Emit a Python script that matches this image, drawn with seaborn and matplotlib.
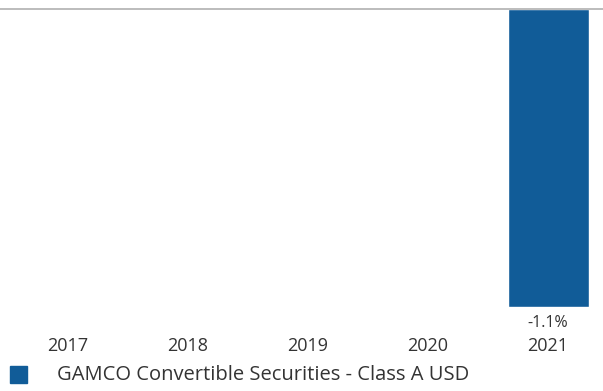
import matplotlib
matplotlib.use("Agg")
import matplotlib.pyplot as plt
import seaborn as sns
import pandas as pd
import numpy as np
from matplotlib.patches import Rectangle

years = ["2017", "2018", "2019", "2020", "2021"]
values = [np.nan, np.nan, np.nan, np.nan, -1.1]
labels = ["", "", "", "", "-1.1%"]
series_name = "GAMCO Convertible Securities - Class A USD"
bar_color = "#115C98"
text_color = "#333333"

sns.set_theme(style="white")
plt.rcParams['font.family'] = ['Open Sans', 'DejaVu Sans']

W, H = 603, 391
fig = plt.figure(figsize=(W / 100, H / 100), dpi=100)
ax = fig.add_axes([0, (H - 307) / H, 1, (307 - 9) / H])

df = pd.DataFrame({"year": years, "value": values})
sns.barplot(data=df, x="year", y="value", color=bar_color, width=0.675,
            saturation=1, ax=ax, order=years)

ax.set_xlim(-68 / 120, (603 - 68) / 120)
ax.set_ylim(-1.1, 0)
ax.axhline(0, color="#b0b0b0", lw=1.2, zorder=5, clip_on=False)
for s in ax.spines.values():
    s.set_visible(False)
ax.set_xlabel("")
ax.set_ylabel("")
ax.set_yticks([])
ax.set_xticks([])

for i, (y, v, lab) in enumerate(zip(years, values, labels)):
    xf = (68 + 120 * i) / W
    if lab:
        fig.text(xf, 1 - 323 / H, lab, ha="center", va="center",
                 fontsize=11.5, color=text_color)
    fig.text(xf, 1 - 346 / H, y, ha="center", va="center",
             fontsize=13, color=text_color)

fig.patches.append(Rectangle((10 / W, 1 - 383 / H), 17 / W, 17 / H,
                             transform=fig.transFigure, color=bar_color,
                             figure=fig))
fig.text(57 / W, 1 - 375 / H, series_name, ha="left", va="center",
         fontsize=14.5, color=text_color)

fig.savefig("out.png", dpi=100)
